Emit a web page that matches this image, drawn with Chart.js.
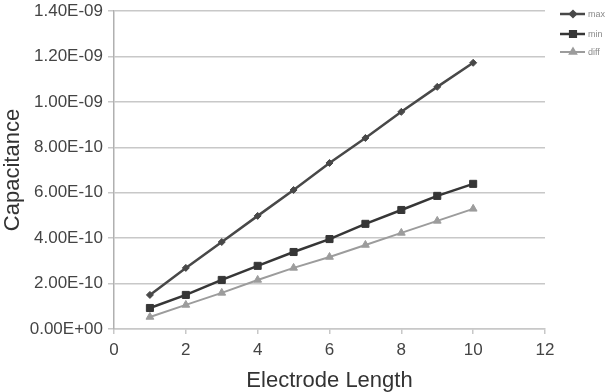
<!DOCTYPE html>
<html>
<head>
<meta charset="utf-8">
<script src="https://cdn.jsdelivr.net/npm/chart.js@4"></script>
<style>
  html, body { margin: 0; padding: 0; background: #fff; }
  #wrap { width: 607px; height: 392px; }
</style>
</head>
<body>
<div id="wrap"><canvas id="myChart" width="607" height="392"></canvas></div>
<script>
const lengths = [1, 2, 3, 4, 5, 6, 7, 8, 9, 10];
const maxValues = [1.50e-10, 2.69e-10, 3.83e-10, 4.98e-10, 6.12e-10, 7.31e-10, 8.41e-10, 9.56e-10, 1.066e-9, 1.172e-9];
const minValues = [0.925e-10, 1.50e-10, 2.16e-10, 2.78e-10, 3.39e-10, 3.96e-10, 4.63e-10, 5.24e-10, 5.86e-10, 6.39e-10];
const diffValues = [0.53e-10, 1.06e-10, 1.59e-10, 2.16e-10, 2.69e-10, 3.17e-10, 3.70e-10, 4.23e-10, 4.76e-10, 5.29e-10];
const seriesNames = ["max", "min", "diff"];

const toPoints = (vals) => vals.map((v, i) => ({ x: lengths[i], y: v }));

// excel style 1.40E-09
const sciLabel = (v) => {
  let s = Number(v).toExponential(2).toUpperCase();
  let parts = s.split("E");
  let sign = parts[1][0];
  let exp = parts[1].slice(1);
  if (exp.length < 2) exp = "0" + exp;
  return parts[0] + "E" + sign + exp;
};

const styles = [
  { color: "#484848", width: 2.5, point: "rectRot", radius: 3.5 },
  { color: "#363636", width: 2.5, point: "rect", radius: 5 },
  { color: "#9c9c9c", width: 2, point: "triangle", radius: 4.5 },
];

// small legend at the top right, line + marker + name
const sideLegend = {
  id: "sideLegend",
  afterDraw(chart) {
    const c = chart.ctx;
    const rows = [14, 34, 52];
    c.save();
    chart.data.datasets.forEach((ds, i) => {
      let y = rows[i];
      c.strokeStyle = ds.borderColor;
      c.lineWidth = ds.borderWidth;
      c.beginPath();
      c.moveTo(560, y);
      c.lineTo(585, y);
      c.stroke();
      c.fillStyle = ds.borderColor;
      Chart.helpers.drawPoint(c, { pointStyle: ds.pointStyle, radius: ds.pointRadius * 0.8, borderWidth: 1 }, 573, y);
      c.fillStyle = "#8a8a8a";
      c.font = "9px 'Liberation Sans', Arial, sans-serif";
      c.textBaseline = "middle";
      c.fillText(ds.label, 588, y + 1);
    });
    c.restore();
  },
};

const ctx = document.getElementById("myChart").getContext("2d");
const myChart = new Chart(ctx, {
  type: "line",
  data: {
    datasets: [maxValues, minValues, diffValues].map((vals, i) => ({
      label: seriesNames[i],
      data: toPoints(vals),
      borderColor: styles[i].color,
      backgroundColor: styles[i].color,
      borderWidth: styles[i].width,
      pointStyle: styles[i].point,
      pointRadius: styles[i].radius,
      pointBorderWidth: 1,
      tension: 0,
    })),
  },
  options: {
    responsive: false,
    animation: false,
    layout: { padding: { left: 0, right: 62, top: 0, bottom: 0 } },
    plugins: {
      legend: { display: false },
      tooltip: { enabled: false },
    },
    scales: {
      x: {
        type: "linear",
        min: 0,
        max: 12,
        afterFit: (scale) => {
          scale.height = 63;
          scale.paddingLeft = 0;
          scale.paddingRight = 0;
        },
        ticks: {
          stepSize: 2,
          color: "#444",
          font: { family: "'Liberation Sans', Arial, sans-serif", size: 17 },
          padding: 6,
        },
        grid: { drawOnChartArea: false, drawTicks: true, tickLength: 5, color: "#c8c8c8", lineWidth: 1.5 },
        border: { color: "#c8c8c8", width: 1.5 },
        title: {
          display: true,
          text: "Electrode Length",
          color: "#333",
          font: { family: "'Liberation Sans', Arial, sans-serif", size: 22 },
          padding: { top: 3, bottom: -2 },
        },
      },
      y: {
        min: 0,
        max: 1.4e-9,
        afterFit: (scale) => {
          scale.width = 114;
          scale.paddingTop = 11;
          scale.paddingBottom = 0;
        },
        ticks: {
          stepSize: 2e-10,
          color: "#444",
          font: { family: "'Liberation Sans', Arial, sans-serif", size: 17 },
          padding: 5,
          callback: (v) => sciLabel(v),
        },
        grid: { color: "#c8c8c8", lineWidth: 1.5, tickLength: 6 },
        border: { color: "#b0b0b0", width: 1.5 },
        title: {
          display: true,
          text: "Capacitance",
          color: "#333",
          font: { family: "'Liberation Sans', Arial, sans-serif", size: 22 },
          padding: { top: 0, bottom: 2 },
        },
      },
    },
  },
  plugins: [sideLegend],
});
</script>
</body>
</html>
